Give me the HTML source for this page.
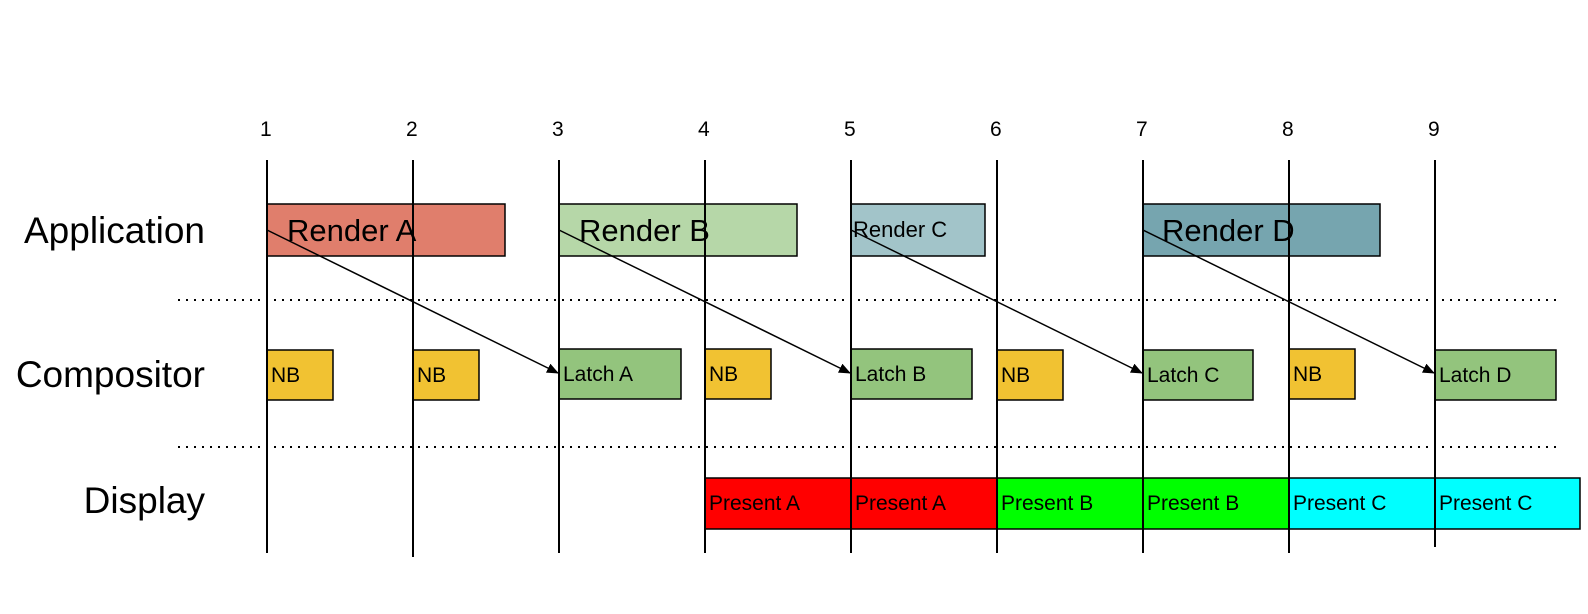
<!DOCTYPE html>
<html><head><meta charset="utf-8"><style>
html,body{margin:0;padding:0;background:#fff;width:1588px;height:614px;overflow:hidden}
svg{display:block;font-family:"Liberation Sans",Arial,sans-serif}
</style></head><body>
<svg width="1588" height="614" viewBox="0 0 1588 614" xmlns="http://www.w3.org/2000/svg">
<defs><marker id="ah" markerWidth="12" markerHeight="10" refX="11" refY="5" orient="auto" markerUnits="userSpaceOnUse"><path d="M0,0 L12,5 L0,10 z" fill="#000"/></marker></defs>
<g font-size="21" fill="#000">
<text x="260" y="136">1</text><text x="406" y="136">2</text><text x="552" y="136">3</text>
<text x="698" y="136">4</text><text x="844" y="136">5</text><text x="990" y="136">6</text>
<text x="1136" y="136">7</text><text x="1282" y="136">8</text><text x="1428" y="136">9</text>
</g>
<g font-size="37" text-anchor="end">
<text x="205" y="243">Application</text>
<text x="205" y="387">Compositor</text>
<text x="205" y="513">Display</text>
</g>
<g stroke="#000" stroke-width="2" stroke-dasharray="2,6">
<line x1="178" y1="300" x2="1558" y2="300"/>
<line x1="178" y1="447" x2="1558" y2="447"/>
</g>
<g stroke="#000" stroke-width="1.5">
<rect x="267" y="204" width="238" height="52" fill="#e07e6c"/>
<rect x="559" y="204" width="238" height="52" fill="#b6d7a8"/>
<rect x="851" y="204" width="134" height="52" fill="#a2c4c9"/>
<rect x="1143" y="204" width="237" height="52" fill="#76a5af"/>
<rect x="267" y="350" width="66" height="50" fill="#f1c232"/>
<rect x="413" y="350" width="66" height="50" fill="#f1c232"/>
<rect x="705" y="349" width="66" height="50" fill="#f1c232"/>
<rect x="997" y="350" width="66" height="50" fill="#f1c232"/>
<rect x="1289" y="349" width="66" height="50" fill="#f1c232"/>
<rect x="559" y="349" width="122" height="50" fill="#93c47d"/>
<rect x="851" y="349" width="121" height="50" fill="#93c47d"/>
<rect x="1143" y="350" width="110" height="50" fill="#93c47d"/>
<rect x="1435" y="350" width="121" height="50" fill="#93c47d"/>
<rect x="705" y="478" width="146" height="51" fill="#ff0000"/>
<rect x="851" y="478" width="146" height="51" fill="#ff0000"/>
<rect x="997" y="478" width="146" height="51" fill="#00ff00"/>
<rect x="1143" y="478" width="146" height="51" fill="#00ff00"/>
<rect x="1289" y="478" width="146" height="51" fill="#00ffff"/>
<rect x="1435" y="478" width="145" height="51" fill="#00ffff"/>
</g>
<g stroke="#000" stroke-width="2">
<line x1="267" y1="160" x2="267" y2="553"/>
<line x1="413" y1="160" x2="413" y2="557"/>
<line x1="559" y1="160" x2="559" y2="553"/>
<line x1="705" y1="160" x2="705" y2="553"/>
<line x1="851" y1="160" x2="851" y2="553"/>
<line x1="997" y1="160" x2="997" y2="553"/>
<line x1="1143" y1="160" x2="1143" y2="553"/>
<line x1="1289" y1="160" x2="1289" y2="553"/>
<line x1="1435" y1="160" x2="1435" y2="547"/>
</g>
<g font-size="31">
<text x="287" y="241">Render A</text>
<text x="579" y="241">Render B</text>
<text x="1162" y="241">Render D</text>
</g>
<text x="853" y="237" font-size="22">Render C</text>
<g font-size="21">
<text x="271" y="382">NB</text><text x="417" y="382">NB</text><text x="709" y="381">NB</text>
<text x="1001" y="382">NB</text><text x="1293" y="381">NB</text>
<text x="563" y="381">Latch A</text><text x="855" y="381">Latch B</text>
<text x="1147" y="382">Latch C</text><text x="1439" y="382">Latch D</text>
<text x="709" y="510">Present A</text><text x="855" y="510">Present A</text>
<text x="1001" y="510">Present B</text><text x="1147" y="510">Present B</text>
<text x="1293" y="510">Present C</text><text x="1439" y="510">Present C</text>
</g>
<g stroke="#000" stroke-width="1.5" marker-end="url(#ah)">
<line x1="267" y1="230" x2="558" y2="373"/>
<line x1="559" y1="230" x2="850" y2="373"/>
<line x1="851" y1="230" x2="1142" y2="373"/>
<line x1="1143" y1="230" x2="1434" y2="373"/>
</g>
</svg>
</body></html>
